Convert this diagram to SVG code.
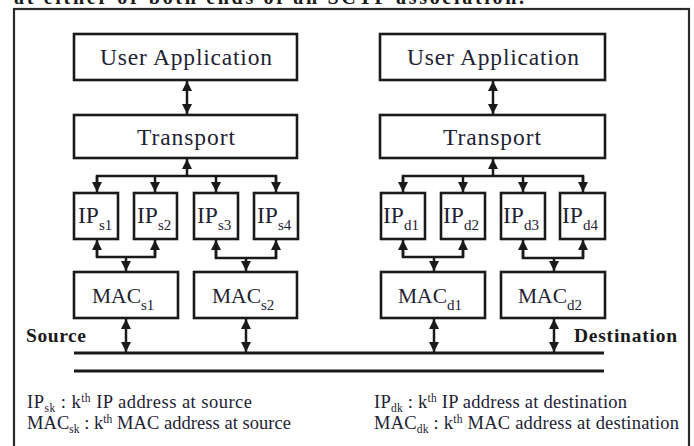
<svg xmlns="http://www.w3.org/2000/svg" width="694" height="446" viewBox="0 0 694 446">
<style>
.box{fill:#fff;stroke:#1a1a1a;stroke-width:2.6}
.ln{fill:none;stroke:#1a1a1a;stroke-width:2.5}
.bus{fill:none;stroke:#1a1a1a;stroke-width:3.2}
.t{font-family:"Liberation Serif","Times New Roman",serif;fill:#222233}
.big{font-size:23.5px}
.ip{font-size:23.5px}
.mac{font-size:21.5px}
.sub{font-size:15px}
.lg{font-size:18.5px}
.sup{font-size:11.5px}
.bold{font-weight:bold;fill:#1a1a1a}
</style>
<defs>
<marker id="ah" viewBox="0 0 10 10" refX="10" refY="5" markerWidth="11" markerHeight="10" markerUnits="userSpaceOnUse" orient="auto-start-reverse">
<path d="M0,0 L10,5 L0,10 Z" fill="#1a1a1a"/>
</marker>
</defs>
<rect width="694" height="446" fill="#fff"/>
<text class="t bold" x="14" y="4" font-size="20" textLength="510">at either or both ends of an SCTP association.</text>
<rect x="14" y="9" width="675" height="450" fill="none" stroke="#2a2a2a" stroke-width="2.2"/>

<g id="connectors">
<line class="ln" x1="187" y1="81" x2="187" y2="114" marker-start="url(#ah)" marker-end="url(#ah)"/>
<line class="ln" x1="493" y1="81" x2="493" y2="114" marker-start="url(#ah)" marker-end="url(#ah)"/>
<line class="ln" x1="187" y1="176" x2="187" y2="159" marker-end="url(#ah)"/>
<line class="ln" x1="493" y1="176" x2="493" y2="159" marker-end="url(#ah)"/>
<path class="ln" d="M97,184 V176 H276 V184"/>
<path class="ln" d="M403,184 V176 H583 V184"/>
<line class="ln" x1="97" y1="176" x2="97" y2="192" marker-end="url(#ah)"/>
<line class="ln" x1="155" y1="176" x2="155" y2="192" marker-end="url(#ah)"/>
<line class="ln" x1="216" y1="176" x2="216" y2="192" marker-end="url(#ah)"/>
<line class="ln" x1="276" y1="176" x2="276" y2="192" marker-end="url(#ah)"/>
<line class="ln" x1="403" y1="176" x2="403" y2="192" marker-end="url(#ah)"/>
<line class="ln" x1="463" y1="176" x2="463" y2="192" marker-end="url(#ah)"/>
<line class="ln" x1="523" y1="176" x2="523" y2="192" marker-end="url(#ah)"/>
<line class="ln" x1="583" y1="176" x2="583" y2="192" marker-end="url(#ah)"/>

<path class="ln" d="M97,250 V257 H155 V250"/>
<line class="ln" x1="97" y1="257" x2="97" y2="240" marker-end="url(#ah)"/>
<line class="ln" x1="155" y1="257" x2="155" y2="240" marker-end="url(#ah)"/>
<line class="ln" x1="126" y1="257" x2="126" y2="271" marker-end="url(#ah)"/>
<path class="ln" d="M216,250 V258 H276 V250"/>
<line class="ln" x1="216" y1="258" x2="216" y2="240" marker-end="url(#ah)"/>
<line class="ln" x1="276" y1="258" x2="276" y2="240" marker-end="url(#ah)"/>
<line class="ln" x1="246" y1="258" x2="246" y2="271" marker-end="url(#ah)"/>
<path class="ln" d="M403,250 V257 H463 V250"/>
<line class="ln" x1="403" y1="257" x2="403" y2="240" marker-end="url(#ah)"/>
<line class="ln" x1="463" y1="257" x2="463" y2="240" marker-end="url(#ah)"/>
<line class="ln" x1="434" y1="257" x2="434" y2="271" marker-end="url(#ah)"/>
<path class="ln" d="M523,250 V258 H583 V250"/>
<line class="ln" x1="523" y1="258" x2="523" y2="240" marker-end="url(#ah)"/>
<line class="ln" x1="583" y1="258" x2="583" y2="240" marker-end="url(#ah)"/>
<line class="ln" x1="554" y1="258" x2="554" y2="271" marker-end="url(#ah)"/>

<line class="ln" x1="126" y1="319" x2="126" y2="352" marker-start="url(#ah)" marker-end="url(#ah)"/>
<line class="ln" x1="246" y1="319" x2="246" y2="352" marker-start="url(#ah)" marker-end="url(#ah)"/>
<line class="ln" x1="434" y1="319" x2="434" y2="352" marker-start="url(#ah)" marker-end="url(#ah)"/>
<line class="ln" x1="554" y1="319" x2="554" y2="352" marker-start="url(#ah)" marker-end="url(#ah)"/>
<line class="bus" x1="74" y1="353" x2="604" y2="353"/>
<line class="bus" x1="74" y1="371" x2="604" y2="371"/>
</g>

<g id="ua-s"><rect class="box" x="74" y="34" width="223" height="46"/><text class="t big" x="100" y="65" textLength="172">User Application</text></g>
<g id="ua-d"><rect class="box" x="380" y="34" width="225" height="46"/><text class="t big" x="407" y="65" textLength="172">User Application</text></g>
<g id="tr-s"><rect class="box" x="74" y="115" width="223" height="43"/><text class="t big" x="137" y="145" textLength="98">Transport</text></g>
<g id="tr-d"><rect class="box" x="380" y="115" width="225" height="43"/><text class="t big" x="443" y="145" textLength="98">Transport</text></g>

<g id="ip-s1"><rect class="box" x="74" y="193" width="44" height="46"/><text class="t" x="78" y="223"><tspan class="ip">IP</tspan><tspan class="sub" dy="7">s1</tspan></text></g>
<g id="ip-s2"><rect class="box" x="134" y="193" width="43" height="46"/><text class="t" x="137" y="223"><tspan class="ip">IP</tspan><tspan class="sub" dy="7">s2</tspan></text></g>
<g id="ip-s3"><rect class="box" x="194" y="193" width="44" height="46"/><text class="t" x="197" y="223"><tspan class="ip">IP</tspan><tspan class="sub" dy="7">s3</tspan></text></g>
<g id="ip-s4"><rect class="box" x="254" y="193" width="44" height="46"/><text class="t" x="257" y="223"><tspan class="ip">IP</tspan><tspan class="sub" dy="7">s4</tspan></text></g>
<g id="ip-d1"><rect class="box" x="381" y="193" width="44" height="46"/><text class="t" x="383" y="223"><tspan class="ip">IP</tspan><tspan class="sub" dy="7">d1</tspan></text></g>
<g id="ip-d2"><rect class="box" x="441" y="193" width="44" height="46"/><text class="t" x="443" y="223"><tspan class="ip">IP</tspan><tspan class="sub" dy="7">d2</tspan></text></g>
<g id="ip-d3"><rect class="box" x="501" y="193" width="44" height="46"/><text class="t" x="503" y="223"><tspan class="ip">IP</tspan><tspan class="sub" dy="7">d3</tspan></text></g>
<g id="ip-d4"><rect class="box" x="560" y="193" width="45" height="46"/><text class="t" x="562" y="223"><tspan class="ip">IP</tspan><tspan class="sub" dy="7">d4</tspan></text></g>

<g id="mac-s1"><rect class="box" x="74" y="272" width="104" height="46"/><text class="t" x="92" y="303"><tspan class="mac">MAC</tspan><tspan class="sub" dy="7">s1</tspan></text></g>
<g id="mac-s2"><rect class="box" x="194" y="272" width="103" height="46"/><text class="t" x="212" y="303"><tspan class="mac">MAC</tspan><tspan class="sub" dy="7">s2</tspan></text></g>
<g id="mac-d1"><rect class="box" x="381" y="272" width="104" height="46"/><text class="t" x="398" y="303"><tspan class="mac">MAC</tspan><tspan class="sub" dy="7">d1</tspan></text></g>
<g id="mac-d2"><rect class="box" x="501" y="272" width="104" height="46"/><text class="t" x="518" y="303"><tspan class="mac">MAC</tspan><tspan class="sub" dy="7">d2</tspan></text></g>

<g id="labels">
<text class="t bold" x="26" y="342" font-size="19.5" textLength="60">Source</text>
<text class="t bold" x="574" y="342" font-size="19.5" textLength="103">Destination</text>
</g>
<g id="legend">
<text class="t lg" x="27" y="408" textLength="225">IP<tspan class="sup" dy="4">sk</tspan><tspan dy="-4"> : k</tspan><tspan class="sup" dy="-6">th</tspan><tspan dy="6"> IP address at source</tspan></text>
<text class="t lg" x="27" y="429" textLength="264">MAC<tspan class="sup" dy="4">sk</tspan><tspan dy="-4"> : k</tspan><tspan class="sup" dy="-6">th</tspan><tspan dy="6"> MAC address at source</tspan></text>
<text class="t lg" x="374" y="408" textLength="253">IP<tspan class="sup" dy="4">dk</tspan><tspan dy="-4"> : k</tspan><tspan class="sup" dy="-6">th</tspan><tspan dy="6"> IP address at destination</tspan></text>
<text class="t lg" x="374" y="429" textLength="305">MAC<tspan class="sup" dy="4">dk</tspan><tspan dy="-4"> : k</tspan><tspan class="sup" dy="-6">th</tspan><tspan dy="6"> MAC address at destination</tspan></text>
</g>
</svg>
